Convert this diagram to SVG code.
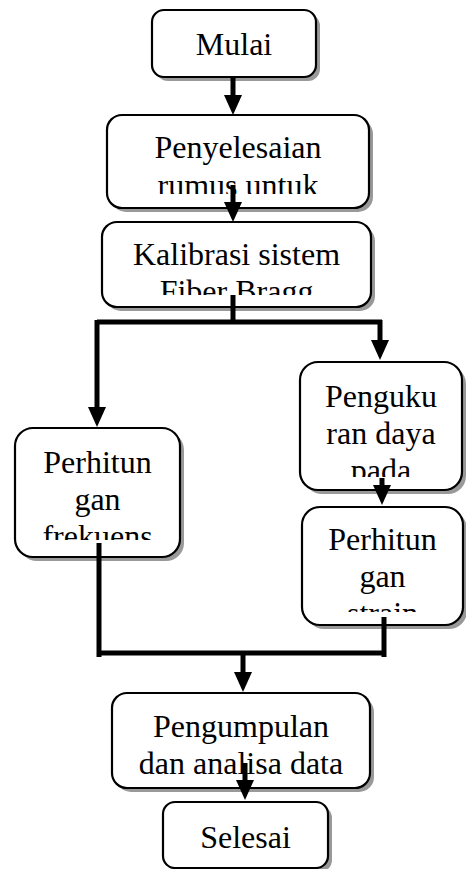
<svg xmlns="http://www.w3.org/2000/svg" width="466" height="869" viewBox="0 0 466 869">
<style>
.box{fill:#fff;stroke:#000;stroke-width:2.2}
.sh{fill:#999}
.t{font-family:"Liberation Serif","Times New Roman",serif;font-size:32px;fill:#000;text-anchor:middle}
.c{fill:none;stroke:#000;stroke-width:5}
</style>
<defs>
<marker id="ah" markerUnits="userSpaceOnUse" markerWidth="20" markerHeight="18" refX="1" refY="9" orient="auto">
<path d="M0,0 L20,9 L0,18 z" fill="#000"/>
</marker>
<clipPath id="cp2"><rect x="107" y="115" width="262" height="79"/></clipPath>
<clipPath id="cp3"><rect x="102" y="222" width="269" height="73"/></clipPath>
<clipPath id="cp4"><rect x="15" y="428" width="165" height="112"/></clipPath>
<clipPath id="cp5"><rect x="300" y="362" width="162" height="115"/></clipPath>
<clipPath id="cp6"><rect x="302" y="507" width="161" height="105"/></clipPath>
</defs>
<rect width="466" height="869" fill="#fff"/>
<g id="mulai">
<rect class="sh" x="156" y="14" width="164" height="67" rx="12"/>
<rect class="box" x="152" y="10" width="164" height="67" rx="12"/>
<text class="t" x="234" y="55">Mulai</text>
</g>
<g id="penyelesaian">
<rect class="sh" x="111" y="119" width="262" height="93" rx="15"/>
<rect class="box" x="107" y="115" width="262" height="93" rx="15"/>
<g clip-path="url(#cp2)">
<text class="t" x="238" y="158">Penyelesaian</text>
<text class="t" x="238" y="196">rumus untuk</text>
</g>
</g>
<g id="kalibrasi">
<rect class="sh" x="106" y="226" width="269" height="85" rx="15"/>
<rect class="box" x="102" y="222" width="269" height="85" rx="15"/>
<g clip-path="url(#cp3)">
<text class="t" x="236.5" y="265">Kalibrasi sistem</text>
<text class="t" x="236.5" y="302">Fiber Bragg</text>
</g>
</g>
<g id="frekuensi">
<rect class="sh" x="19" y="432" width="165" height="129" rx="18"/>
<rect class="box" x="15" y="428" width="165" height="129" rx="18"/>
<g clip-path="url(#cp4)">
<text class="t" x="97.5" y="473">Perhitun</text>
<text class="t" x="97.5" y="510">gan</text>
<text class="t" x="97.5" y="547">frekuens</text>
</g>
</g>
<g id="pengukuran">
<rect class="sh" x="304" y="366" width="162" height="128" rx="18"/>
<rect class="box" x="300" y="362" width="162" height="128" rx="18"/>
<g clip-path="url(#cp5)">
<text class="t" x="381" y="407">Penguku</text>
<text class="t" x="381" y="444">ran daya</text>
<text class="t" x="381" y="481">pada</text>
</g>
</g>
<g id="strain">
<rect class="sh" x="306" y="511" width="161" height="118" rx="18"/>
<rect class="box" x="302" y="507" width="161" height="118" rx="18"/>
<g clip-path="url(#cp6)">
<text class="t" x="382.5" y="550">Perhitun</text>
<text class="t" x="382.5" y="587">gan</text>
<text class="t" x="382.5" y="624">strain</text>
</g>
</g>
<g id="pengumpulan">
<rect class="sh" x="116" y="697" width="258" height="95" rx="15"/>
<rect class="box" x="112" y="693" width="258" height="95" rx="15"/>
<text class="t" x="241" y="737">Pengumpulan</text>
<text class="t" x="241" y="774">dan analisa data</text>
</g>
<g id="selesai">
<rect class="sh" x="167" y="806" width="165" height="66" rx="12"/>
<rect class="box" x="163" y="802" width="165" height="66" rx="12"/>
<text class="t" x="245.5" y="848">Selesai</text>
</g>
<g id="connectors">
<path class="c" d="M233,77 V96" marker-end="url(#ah)"/>
<path class="c" d="M233,185 V203" marker-end="url(#ah)"/>
<path class="c" d="M233,295 V322"/>
<path class="c" d="M97,322 H382"/>
<path class="c" d="M97,320 V408" marker-end="url(#ah)"/>
<path class="c" d="M380,320 V341" marker-end="url(#ah)"/>
<path class="c" d="M382,478 V486" marker-end="url(#ah)"/>
<path class="c" d="M99,543 V657"/>
<path class="c" d="M97,653 H384"/>
<path class="c" d="M384,617 V657"/>
<path class="c" d="M243,653 V673" marker-end="url(#ah)"/>
<path class="c" d="M245,763 V781" marker-end="url(#ah)"/>
</g>
</svg>
